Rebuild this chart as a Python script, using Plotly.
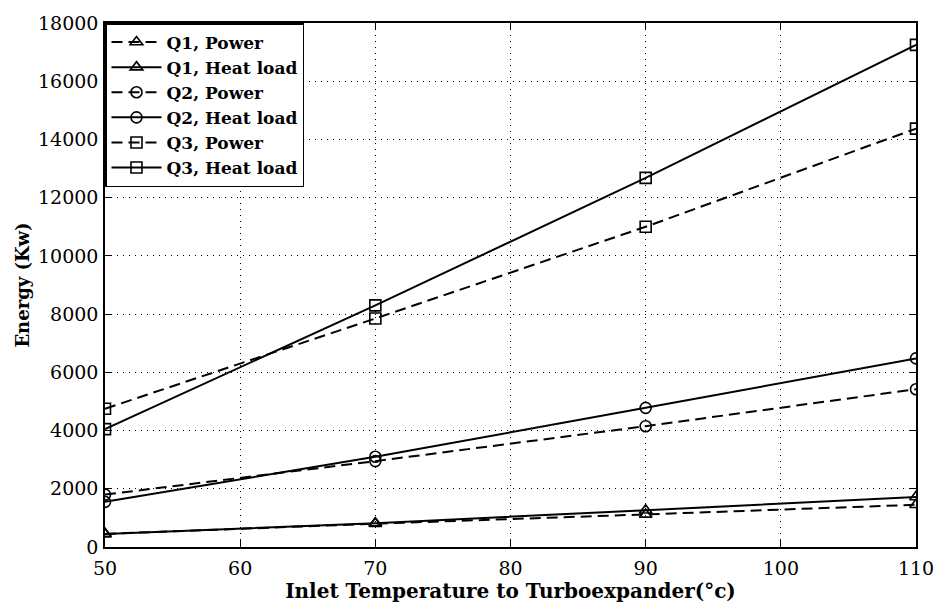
import plotly.graph_objects as go

# Inlet temperatures (°C)
temps = [50, 70, 90, 110]

# Energy values (kW)
q1_power = [450, 800, 1120, 1450]
q1_heat = [450, 820, 1260, 1720]
q2_power = [1800, 2950, 4150, 5420]
q2_heat = [1550, 3100, 4780, 6480]
q3_power = [4750, 7850, 11000, 14370]
q3_heat = [4050, 8300, 12680, 17250]

series = [
    ("Q1, Power", q1_power, "dash", "triangle-up-open"),
    ("Q1, Heat load", q1_heat, "solid", "triangle-up-open"),
    ("Q2, Power", q2_power, "dash", "circle-open"),
    ("Q2, Heat load", q2_heat, "solid", "circle-open"),
    ("Q3, Power", q3_power, "dash", "square-open"),
    ("Q3, Heat load", q3_heat, "solid", "square-open"),
]

font_family = "DejaVu Serif"
long_dash = "11px,6px"

fig = go.Figure()
for name, vals, dash, sym in series:
    fig.add_trace(go.Scatter(
        x=temps, y=vals, name=name, mode="lines+markers",
        line=dict(color="black", width=2, dash=long_dash if dash == "dash" else "solid"),
        marker=dict(symbol=sym, size=11, color="black", line=dict(width=1.6, color="black")),
    ))

axis_common = dict(
    showline=True, linecolor="black", linewidth=1.5, mirror="allticks",
    ticks="inside", ticklen=7, tickcolor="black",
    showgrid=True, gridcolor="black", gridwidth=1, griddash="1px,5px",
    zeroline=False,
    tickfont=dict(family=font_family, size=19, color="black"),
)

fig.update_layout(
    width=946, height=607,
    paper_bgcolor="white", plot_bgcolor="white",
    margin=dict(l=105, r=20, t=18, b=59),
    xaxis=dict(range=[50, 110], dtick=10, tickformat="d", ticklabelstandoff=3,
               title=dict(text="<b>Inlet Temperature to Turboexpander(°c)</b>",
                          font=dict(family=font_family, size=20, color="black"), standoff=2),
               **axis_common),
    yaxis=dict(range=[0, 18000], dtick=2000, tickformat="d", ticklabelstandoff=1,
               title=dict(text="<b>Energy (Kw)</b>",
                          font=dict(family=font_family, size=18, color="black"), standoff=4),
               **axis_common),
    legend=dict(x=0, y=1, xanchor="left", yanchor="top",
                bgcolor="white", bordercolor="black", borderwidth=1.5,
                font=dict(family=font_family, size=17, color="black", weight="bold"),
                itemwidth=50, tracegroupgap=3),
    showlegend=True,
)

fig.write_html("out.html")
